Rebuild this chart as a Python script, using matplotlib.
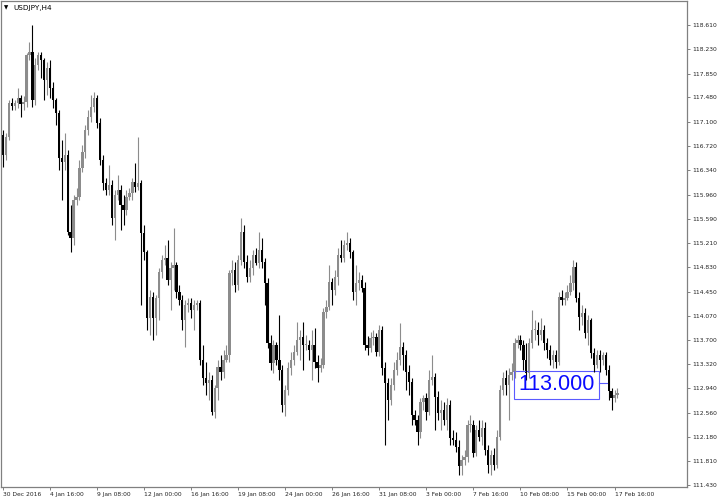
import matplotlib
matplotlib.use("Agg")
import matplotlib.pyplot as plt
from matplotlib.patches import Rectangle

# USDJPY H4 candles, 30 Dec 2016 08:00 .. 17 Feb 2017 20:00
first_open = 116.89
closes = [116.58, 116.86, 117.39, 117.35, 117.39, 117.47, 117.38, 117.41, 118.14, 118.19,
          117.44, 117.99, 118.14, 118.06, 117.75, 117.94, 117.63, 117.44, 117.24, 116.54,
          116.47, 116.58, 115.38, 115.29, 115.88, 115.93, 116.38, 116.63, 116.97, 117.17,
          117.33, 117.47, 117.08, 116.50, 116.15, 116.04, 116.11, 115.60, 115.96, 116.04,
          115.80, 115.72, 115.93, 115.99, 116.16, 116.08, 116.15, 115.37, 115.07, 114.04,
          114.37, 114.04, 114.35, 114.76, 114.94, 114.98, 114.63, 114.82, 114.87, 114.45,
          114.32, 114.01, 114.24, 114.27, 114.16, 114.24, 114.27, 113.38, 113.10, 113.03,
          113.07, 112.57, 112.95, 113.27, 113.20, 113.38, 113.46, 114.74, 114.79, 114.55,
          114.94, 115.38, 114.91, 114.68, 114.82, 115.02, 114.90, 115.10, 114.91, 114.59,
          113.65, 113.34, 113.62, 113.38, 113.23, 112.68, 112.92, 113.26, 113.38, 113.51,
          113.70, 113.74, 113.62, 113.62, 113.54, 113.62, 113.35, 113.26, 113.31, 114.13,
          114.21, 114.60, 114.48, 114.68, 115.02, 114.98, 115.18, 115.21, 115.07, 114.45,
          114.59, 114.63, 114.51, 113.62, 113.57, 113.73, 113.74, 113.51, 113.85, 113.26,
          113.03, 112.76, 112.99, 113.23, 113.38, 113.59, 113.46, 113.20, 113.04, 112.53,
          112.45, 112.25, 112.73, 112.79, 112.57, 113.07, 113.12, 112.81, 112.56, 112.60,
          112.45, 112.68, 112.17, 112.14, 112.03, 111.72, 111.82, 111.86, 112.37, 112.37,
          111.93, 112.29, 112.18, 112.32, 111.98, 111.75, 111.90, 111.75, 112.18, 112.92,
          113.10, 112.99, 113.15, 113.20, 113.65, 113.70, 113.62, 113.38, 113.18, 113.65,
          113.85, 113.85, 113.77, 113.85, 113.65, 113.54, 113.38, 113.46, 113.35, 114.37,
          114.32, 114.35, 114.45, 114.59, 114.84, 114.35, 114.06, 114.12, 113.81, 114.01,
          113.49, 113.31, 113.46, 113.38, 113.46, 113.23, 112.89, 112.79, 112.84, 112.87]
highs = [116.97, 116.93, 117.44, 117.47, 117.44, 117.63, 117.52, 117.50, 118.17, 118.34,
         118.61, 118.10, 118.19, 118.19, 118.10, 118.03, 118.06, 117.72, 117.47, 117.28,
         116.82, 116.93, 116.66, 115.80, 115.96, 116.07, 116.50, 116.74, 117.05, 117.28,
         117.52, 117.56, 117.52, 117.16, 116.58, 116.22, 116.43, 116.19, 116.04, 116.27,
         116.11, 115.96, 116.04, 116.07, 116.22, 116.46, 116.86, 116.19, 115.49, 115.10,
         114.48, 114.45, 114.40, 114.82, 115.02, 115.18, 115.26, 114.91, 115.44, 114.91,
         114.55, 114.40, 114.32, 114.35, 114.35, 114.32, 114.32, 114.32, 113.62, 113.35,
         113.20, 113.15, 112.99, 113.38, 113.46, 113.54, 113.62, 114.79, 114.94, 114.91,
         115.02, 115.60, 115.49, 115.02, 114.94, 115.10, 115.13, 115.38, 115.29, 114.98,
         114.66, 113.77, 113.70, 113.66, 114.09, 113.31, 112.99, 113.35, 113.51, 113.62,
         113.98, 113.85, 113.98, 113.77, 113.70, 113.85, 113.88, 113.46, 113.42, 114.20,
         114.32, 114.87, 114.66, 114.79, 115.13, 115.26, 115.26, 115.38, 115.29, 115.10,
         114.87, 114.76, 114.71, 114.60, 113.76, 113.82, 113.85, 113.81, 113.93, 113.91,
         113.35, 113.10, 113.10, 113.35, 113.51, 113.96, 113.66, 113.54, 113.31, 113.10,
         112.60, 112.53, 112.79, 112.84, 112.87, 113.23, 113.46, 113.18, 112.89, 112.76,
         112.73, 112.79, 112.76, 112.29, 112.26, 112.14, 111.90, 111.98, 112.45, 112.53,
         112.45, 112.37, 112.45, 112.45, 112.42, 112.06, 111.98, 112.01, 112.29, 112.99,
         113.20, 113.23, 113.26, 113.34, 113.73, 113.77, 113.77, 113.70, 113.65, 113.73,
         114.16, 114.01, 113.98, 114.04, 113.93, 113.73, 113.62, 113.54, 113.54, 114.45,
         114.48, 114.45, 114.55, 114.71, 114.94, 114.91, 114.45, 114.24, 114.20, 114.09,
         114.04, 113.57, 113.54, 113.54, 113.51, 113.51, 113.31, 112.95, 112.92, 112.95]
lows = [116.40, 116.50, 116.82, 117.28, 117.28, 117.32, 117.17, 117.28, 117.33, 118.06,
        117.33, 117.36, 117.91, 117.78, 117.44, 117.52, 117.47, 117.32, 117.05, 116.35,
        115.88, 116.35, 115.33, 115.07, 115.18, 115.80, 115.88, 116.32, 116.54, 116.89,
        117.10, 117.25, 117.00, 116.43, 116.04, 115.96, 115.96, 115.49, 115.26, 115.88,
        115.41, 115.49, 115.65, 115.88, 115.88, 116.01, 116.04, 114.24, 114.94, 113.85,
        113.77, 113.70, 113.77, 114.01, 114.66, 114.87, 114.55, 114.16, 114.48, 114.35,
        114.24, 113.85, 113.59, 114.13, 114.04, 113.85, 114.16, 113.31, 112.99, 112.84,
        112.76, 112.53, 112.48, 112.76, 113.07, 113.10, 113.35, 113.35, 114.55, 114.45,
        114.48, 114.87, 114.82, 114.60, 114.60, 114.71, 114.87, 114.82, 114.82, 114.24,
        113.57, 113.23, 113.18, 113.31, 113.07, 112.57, 112.50, 112.84, 113.15, 113.31,
        113.46, 113.38, 113.23, 113.54, 113.38, 113.07, 113.26, 113.04, 113.20, 113.26,
        114.04, 114.16, 114.24, 114.40, 114.55, 114.91, 114.91, 115.10, 114.98, 114.32,
        114.24, 114.48, 114.45, 113.54, 113.46, 113.51, 113.62, 113.45, 113.45, 113.15,
        112.06, 112.45, 112.68, 112.92, 113.15, 113.31, 113.23, 112.92, 112.84, 112.37,
        112.37, 112.06, 112.17, 112.60, 112.45, 112.53, 112.99, 112.29, 112.45, 112.29,
        112.37, 112.29, 112.06, 112.06, 111.95, 111.59, 111.59, 111.75, 111.79, 112.26,
        111.86, 111.89, 112.11, 112.06, 111.90, 111.62, 111.59, 111.67, 111.70, 112.14,
        112.84, 112.84, 112.45, 113.07, 113.10, 113.57, 113.54, 113.23, 113.07, 113.10,
        113.57, 113.70, 113.62, 113.70, 113.54, 113.42, 113.31, 113.26, 113.26, 113.31,
        114.24, 114.24, 114.32, 114.40, 114.48, 114.29, 113.85, 113.93, 113.73, 113.62,
        113.42, 113.20, 113.26, 113.20, 113.31, 113.15, 112.76, 112.60, 112.73, 112.79]
opens = [first_open] + closes[:-1]

tick_bars = [0, 16, 32, 48, 64, 80, 96, 112, 128, 144, 160, 176, 192, 208]
tick_labels = ["30 Dec 2016", "4 Jan 16:00", "9 Jan 08:00", "12 Jan 00:00", "16 Jan 16:00",
               "19 Jan 08:00", "24 Jan 00:00", "26 Jan 16:00", "31 Jan 08:00", "3 Feb 00:00",
               "7 Feb 16:00", "10 Feb 08:00", "15 Feb 00:00", "17 Feb 16:00"]
price_ticks = [118.610, 118.230, 117.850, 117.480, 117.100, 116.720, 116.340, 115.960, 115.590,
               115.210, 114.830, 114.450, 114.070, 113.700, 113.320, 112.940, 112.560, 112.180,
               111.810, 111.430]
label_price = 113.000

bull = '#8c8c8c'
bear = '#000000'
frame = '#808080'

fig = plt.figure(figsize=(7.2, 5.03), dpi=100)
ax = fig.add_axes([1/720, 16/503, 686/720, 486/503])

for i in range(len(closes)):
    o, h, l, c = opens[i], highs[i], lows[i], closes[i]
    col = bear if c < o else bull
    ax.vlines(i, l, h, color=col, lw=0.8)
    ax.bar(i, max(abs(c - o), 0.012), bottom=min(o, c), width=0.78, color=col, lw=0)

ax.set_xlim(-0.68, 232.65)
ax.set_ylim(111.399, 118.985)

ax.set_xticks(tick_bars)
ax.set_xticklabels(tick_labels, fontsize=4.3, ha='left')
ax.set_yticks(price_ticks)
ax.set_yticklabels(['%.3f' % v for v in price_ticks], fontsize=4.3)
ax.yaxis.tick_right()
ax.tick_params(axis='both', direction='out', length=2.5, width=0.7, color=frame, pad=1.5,
               labelcolor='#222222')
ax.tick_params(axis='x', pad=1.2)
for s in ax.spines.values():
    s.set_color(frame)
    s.set_linewidth(0.9)

# price label object
x0, x1 = 173.8, 202.7
ax.add_patch(Rectangle((x0, 112.77), x1 - x0, 0.44, fill=False, edgecolor='#5a5aff', lw=0.8))
ax.plot([x1, 205.4], [113.03, 113.03], color='#5a5aff', lw=0.8)
ax.text((x0 + x1) / 2, label_price, '113.000', color='#0a0aff', fontsize=15.5,
        family='Liberation Sans', ha='center', va='center')

# symbol header
fig.text(4/720, 1 - 8/503, '\u25bc', fontsize=4, color='black', va='center')
fig.text(13/720, 1 - 8/503, 'USDJPY,H4', fontsize=5.2, color='black', va='center')

fig.savefig('out.png', dpi=100)
